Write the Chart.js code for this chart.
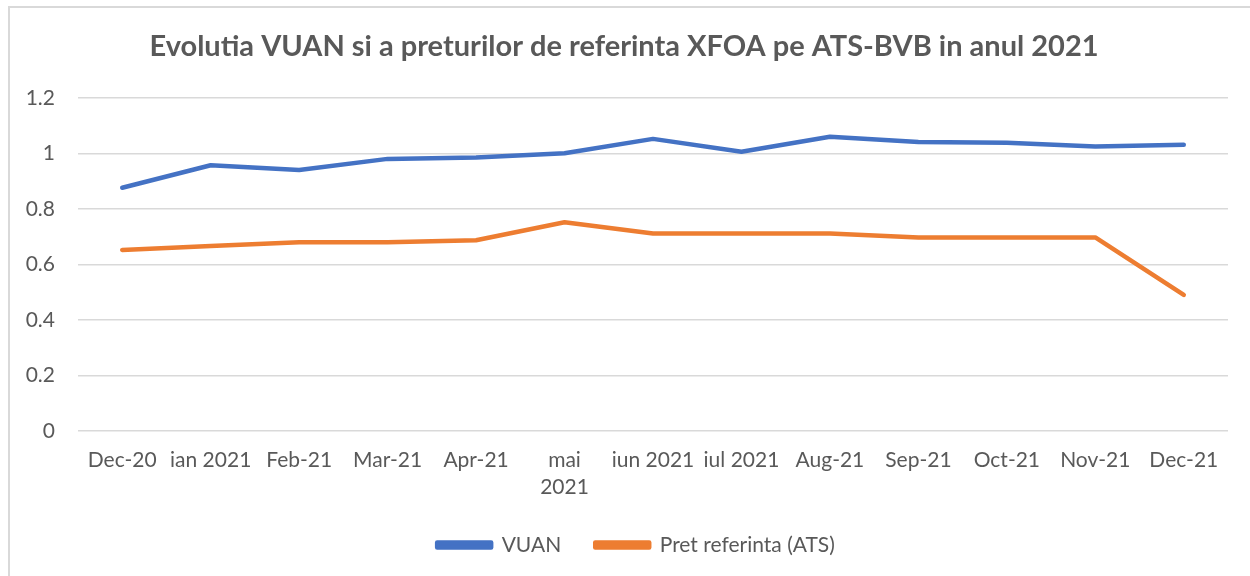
<!DOCTYPE html>
<html>
<head>
<meta charset="utf-8">
<script src="https://cdn.jsdelivr.net/npm/chart.js@4/dist/chart.umd.min.js"></script>
<style>
  html, body { margin: 0; padding: 0; background: #ffffff; }
  #wrap { position: relative; width: 1250px; height: 576px; overflow: hidden; }
  #frame { position: absolute; left: 8px; top: 6px; width: 1300px; height: 700px;
           border-top: 2px solid #d9d9d9; border-left: 2px solid #d9d9d9; box-sizing: border-box; }
  #c { position: absolute; left: 0; top: 0; }
</style>
</head>
<body>
<div id="wrap">
  <div id="frame"></div>
  <canvas id="c" width="1250" height="576"></canvas>
</div>
<script>
const categories = ['Dec-20', 'ian 2021', 'Feb-21', 'Mar-21', 'Apr-21', ['mai', '2021'], 'iun 2021', 'iul 2021', 'Aug-21', 'Sep-21', 'Oct-21', 'Nov-21', 'Dec-21'];
const vuanValues = [0.876, 0.957, 0.940, 0.980, 0.985, 1.000, 1.052, 1.006, 1.060, 1.041, 1.038, 1.025, 1.031];
const pretValues = [0.652, 0.666, 0.680, 0.680, 0.687, 0.752, 0.711, 0.711, 0.711, 0.697, 0.697, 0.697, 0.490];
const seriesNames = ['VUAN', 'Pret referinta (ATS)'];
const chartTitle = 'Evolutia VUAN si a preturilor de referinta XFOA pe ATS-BVB in anul 2021';

const textColor = '#595959';
const gridColor = '#d9d9d9';
const fontFamily = 'Lato, "Open Sans", sans-serif';
const legendCenterX = 636;

const legendShift = {
  id: 'legendShift',
  afterLayout(chart) {
    const lg = chart.legend;
    if (!lg) return;
    const d = legendCenterX - (lg.left + lg.right) / 2;
    lg.left += d; lg.right += d;
  }
};

new Chart(document.getElementById('c'), {
  type: 'line',
  data: {
    labels: categories,
    datasets: [
      { label: seriesNames[0], data: vuanValues, borderColor: '#4472C4', backgroundColor: '#4472C4',
        borderWidth: 4.5, pointRadius: 0, tension: 0, borderCapStyle: 'round', borderJoinStyle: 'round' },
      { label: seriesNames[1], data: pretValues, borderColor: '#ED7D31', backgroundColor: '#ED7D31',
        borderWidth: 4.5, pointRadius: 0, tension: 0, borderCapStyle: 'round', borderJoinStyle: 'round' }
    ]
  },
  plugins: [legendShift],
  options: {
    responsive: false,
    animation: false,
    devicePixelRatio: 1,
    layout: { padding: { left: 20, right: 22, top: 0, bottom: 10.5 } },
    plugins: {
      title: {
        display: true, text: chartTitle, color: textColor,
        font: { family: fontFamily, size: 29, weight: 'bold' },
        padding: { top: 29.5, bottom: 33.5 }
      },
      legend: {
        position: 'bottom',
        labels: {
          color: textColor, font: { family: fontFamily, size: 21 },
          boxWidth: 54, boxHeight: 5, padding: 34
        }
      },
      tooltip: { enabled: false }
    },
    scales: {
      x: {
        offset: true,
        grid: { display: false, drawTicks: false },
        border: { display: false },
        ticks: { color: textColor, font: { family: fontFamily, size: 21, lineHeight: 1.29 }, padding: 16, maxRotation: 0, autoSkip: false },
        afterFit: (s) => { s.height = 69.5; }
      },
      y: {
        min: 0, max: 1.2,
        grid: { color: gridColor, lineWidth: 1.5, drawTicks: false },
        border: { display: false },
        ticks: { stepSize: 0.2, color: textColor, font: { family: fontFamily, size: 21 }, padding: 23,
                 callback: (v) => String(Number(v.toFixed(2))) },
        afterFit: (s) => { s.width = 58; }
      }
    }
  }
});
</script>
</body>
</html>
